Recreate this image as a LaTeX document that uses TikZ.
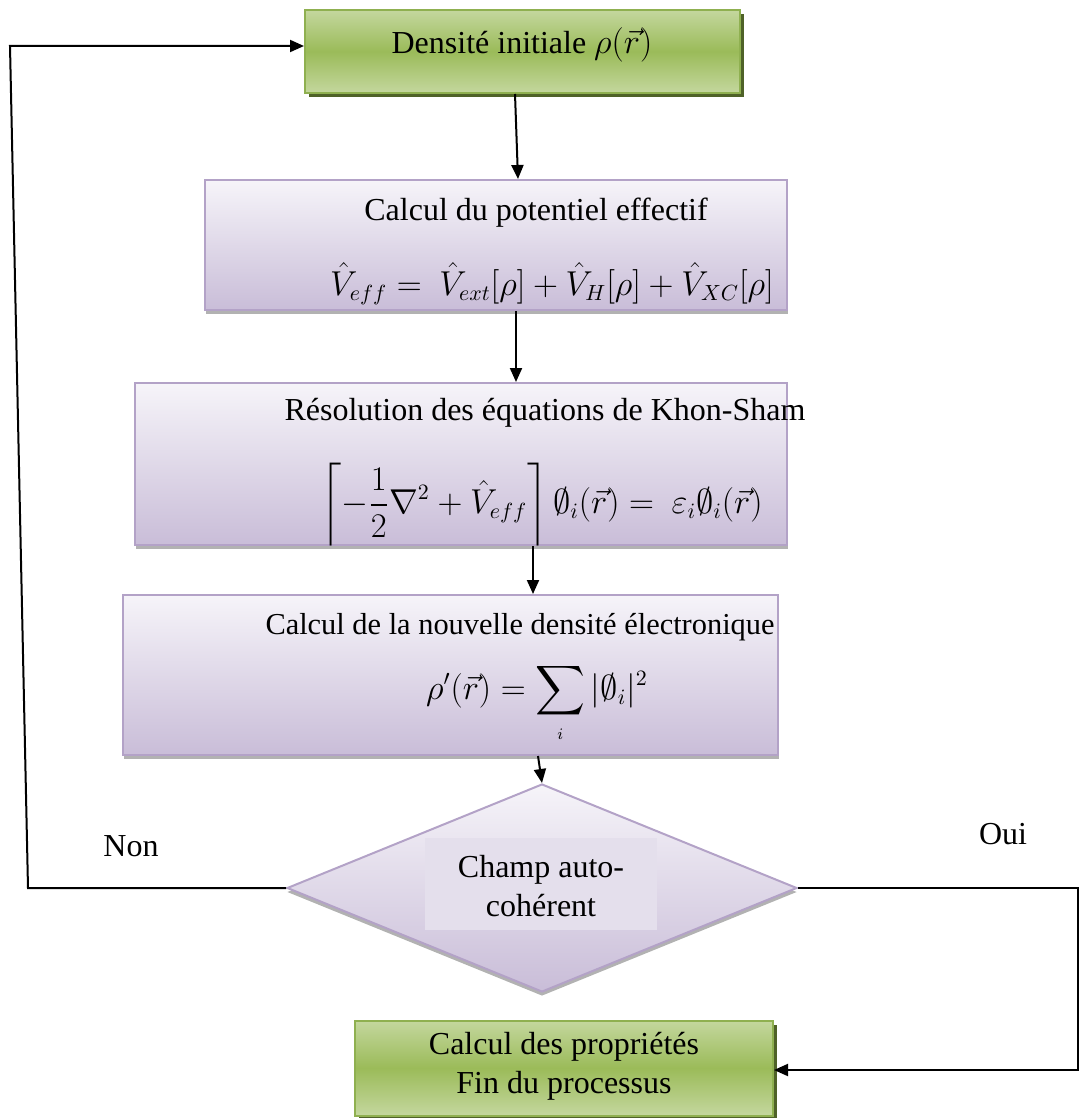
\documentclass[tikz,border=0pt]{standalone}
\usepackage{fontspec}
\setmainfont{Liberation Serif}
\usepackage{amsmath}
\usetikzlibrary{shapes.geometric,shadows,arrows.meta,calc}
\definecolor{gLight}{HTML}{C4D79E}
\definecolor{gMid}{HTML}{9BBB59}
\definecolor{gBorder}{HTML}{8FB050}
\definecolor{gShadow}{HTML}{4F6228}
\definecolor{pTop}{HTML}{F6F4F9}
\definecolor{pBot}{HTML}{C9BDD8}
\definecolor{pBorder}{HTML}{B3A2C7}
\definecolor{pInner}{HTML}{E4DFEC}
\begin{document}
\begin{tikzpicture}[x=0.5pt,y=-0.5pt,
  every node/.style={font=\fontsize{16}{19.5}\selectfont},
  greenbox/.style={rectangle, draw=gBorder, line width=1pt, top color=gLight, bottom color=gLight, middle color=gMid,
    drop shadow={shadow xshift=2pt, shadow yshift=-2pt, fill=gShadow, opacity=1}},
  purplebox/.style={rectangle, draw=pBorder, line width=1pt, top color=pTop, bottom color=pBot,
    drop shadow={shadow xshift=0.5pt, shadow yshift=-2pt, fill=gray!60, opacity=1}},
  txt/.style={inner sep=0pt, align=center},
  arr/.style={-{Triangle[length=7pt,width=6pt]}, line width=1pt},
  ln/.style={line width=1pt}]
\useasboundingbox (0,0) rectangle (1080,1118);

% boxes
\node[greenbox, minimum width=217.5pt, minimum height=41.5pt] (b1) at (522.5,51.5) {};
\node[txt] (b1t) at (522,45) {Densité initiale $\rho(\vec{r})$};

\node[purplebox, minimum width=291pt, minimum height=65pt] (b2) at (496,245) {};
\node[txt] (b2t) at (536,213) {Calcul du potentiel effectif};
\node[txt] (b2e) at (552,284) {$\hat{V}_{eff} = \ \hat{V}_{ext}[\rho] + \hat{V}_{H}[\rho] + \hat{V}_{XC}[\rho]$};

\node[purplebox, minimum width=326pt, minimum height=81pt] (b3) at (461,464) {};
\node[txt] (b3t) at (545,413) {Résolution des équations de Khon-Sham};
\node[txt] (b3e) at (542,505) {$\displaystyle\left\lceil -\frac{1}{2}\nabla^{2} + \hat{V}_{eff}\right\rceil \emptyset_{i}(\vec{r}) = \ \varepsilon_{i}\emptyset_{i}(\vec{r})$};

\node[purplebox, minimum width=327.5pt, minimum height=80pt] (b4) at (450.5,675) {};
\node[txt, font=\fontsize{15.2}{18}\selectfont] (b4t) at (520,627) {Calcul de la nouvelle densité électronique};
\node[txt] (b4e) at (537,703) {$\displaystyle\rho'(\vec{r}) = \sum_{\scriptscriptstyle i}|\emptyset_{i}|^{2}$};

\node[diamond, draw=pBorder, line width=1pt, top color=pTop, bottom color=pBot, inner sep=0pt,
  minimum width=255pt, minimum height=104pt, aspect=2.45,
  drop shadow={shadow xshift=0pt, shadow yshift=-2pt, fill=gray!60, opacity=1}] (d) at (542,888) {};
\node[rectangle, fill=pInner, minimum width=116pt, minimum height=46pt, inner sep=0pt] (din) at (541,884) {};
\node[txt] (dt) at (541,886) {Champ auto-\\cohérent};

\node[greenbox, minimum width=209pt, minimum height=47.5pt] (b5) at (564,1068) {};
\node[txt] (b5t) at (564,1066) {Calcul des propriétés\\Fin du processus};

% labels
\node[txt] (non) at (131,846) {Non};
\node[txt] (oui) at (1003,834) {Oui};

% connectors
\draw[arr] ($(b1.south)+(-7.5,0)$) -- ($(b2.north)+(22,0)$);
\draw[arr] ($(b2.south)+(20,0)$) -- ($(b3.north)+(55,0)$);
\draw[arr] ($(b3.south)+(72,0)$) -- ($(b4.north)+(82.5,0)$);
\draw[arr] ($(b4.south)+(87.5,0)$) -- (d.north);

\coordinate (nl1) at (28,888);
\coordinate (nl2) at (10,46);
\draw[arr] (d.west) -- (nl1) -- (nl2) -- (nl2 -| b1.west);

\coordinate (ol1) at (1078,888);
\coordinate (ol2) at (1078,1070);
\draw[arr] (d.east) -- (ol1) -- (ol2) -- (ol2 -| b5.east);
\end{tikzpicture}
\end{document}
